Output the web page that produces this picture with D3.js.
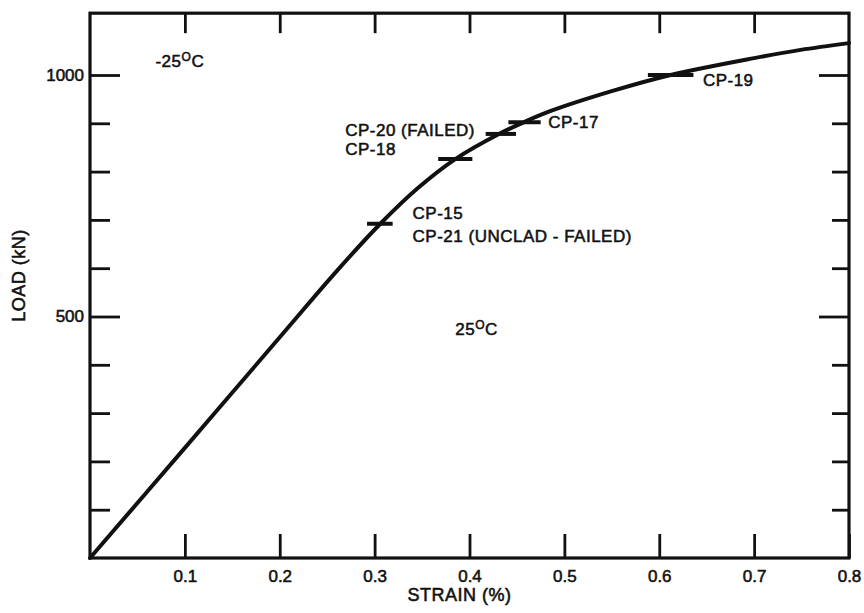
<!DOCTYPE html>
<html>
<head>
<meta charset="utf-8">
<script src="https://cdn.jsdelivr.net/npm/d3@7"></script>
<style>
  html, body { margin: 0; padding: 0; background: #fff; }
  svg { display: block; font-family: "Liberation Sans", Arial, Helvetica, sans-serif; }
  svg text { stroke: #111; stroke-width: 0.55px; }
</style>
</head>
<body>
<div id="app"></div>
<script>
// Load vs strain curve (strain in %, load in kN)
const curveStrain = [0, 0.1, 0.2, 0.26, 0.306, 0.345, 0.385, 0.431, 0.457, 0.485, 0.549, 0.612, 0.7, 0.749, 0.8];
const curveLoad   = [0, 228, 457, 594, 692, 765, 826, 878, 902, 925, 966, 1000, 1035, 1052, 1066];

// test specimen marks: strain spread (low/high) at a given load
const markNames      = ['CP-15', 'CP-18', 'CP-20', 'CP-17', 'CP-19'];
const markStrainLow  = [0.292, 0.367, 0.417, 0.441, 0.588];
const markStrainHigh = [0.319, 0.403, 0.449, 0.475, 0.636];
const markLoad       = [692, 826, 878, 902, 1000];

// annotations (text, strain, load of text baseline start)
const noteText   = ['-25|C', 'CP-19', 'CP-17', 'CP-20 (FAILED)', 'CP-18', 'CP-15', 'CP-21 (UNCLAD - FAILED)', '25|C'];
const noteStrain = [0.069, 0.646, 0.483, 0.269, 0.269, 0.340, 0.340, 0.385];
const noteLoad   = [1017, 977, 890, 874, 834, 702, 654, 462];

// ticks
const xTicks = [0.1, 0.2, 0.3, 0.4, 0.5, 0.6, 0.7, 0.8];
const xTopTicks = [0.1, 0.2, 0.3, 0.4, 0.5, 0.6, 0.7];
const yTicks = [100, 200, 300, 400, 500, 600, 700, 800, 900, 1000];
const yLabelled = [500, 1000];
const yTop = 1128;   // load at the top of the frame

const W = 864, H = 613;

const svg = d3.select('#app').append('svg')
  .attr('width', W).attr('height', H)
  .attr('viewBox', [0, 0, W, H]);

const x = d3.scaleLinear().domain([0, 0.8]).range([90, 849]);
const y = d3.scaleLinear().domain([0, 1000]).range([558, 75]);

const ink = '#111';

// frame
svg.append('rect')
  .attr('x', x(0)).attr('y', y(yTop))
  .attr('width', x(0.8) - x(0)).attr('height', y(0) - y(yTop))
  .attr('fill', 'none').attr('stroke', ink).attr('stroke-width', 3.2);

// axes, ticks pointing inward
function styleAxis(g) {
  g.select('.domain').remove();
  g.selectAll('.tick line').attr('stroke', ink).attr('stroke-width', 2.8);
  g.selectAll('.tick text').attr('fill', ink).attr('font-size', 17)
    .attr('font-family', '"Liberation Sans", Arial, sans-serif');
}

svg.append('g')
  .attr('transform', `translate(0,${y(0)})`)
  .call(d3.axisBottom(x).tickValues(xTicks).tickSize(-24).tickPadding(12).tickFormat(d3.format('.1f')))
  .call(styleAxis);

svg.append('g')
  .attr('transform', `translate(0,${y(yTop)})`)
  .call(d3.axisTop(x).tickValues(xTopTicks).tickSize(-20).tickFormat(''))
  .call(styleAxis);

const left = svg.append('g')
  .attr('transform', `translate(${x(0)},0)`)
  .call(d3.axisLeft(y).tickValues(yTicks).tickSize(-20).tickPadding(6)
    .tickFormat(d => yLabelled.includes(d) ? d : ''))
  .call(styleAxis);
left.selectAll('.tick line').filter(d => yLabelled.includes(d)).attr('x2', 30);

const right = svg.append('g')
  .attr('transform', `translate(${x(0.8)},0)`)
  .call(d3.axisRight(y).tickValues(yTicks).tickSize(-17).tickFormat(''))
  .call(styleAxis);
right.selectAll('.tick line').filter(d => yLabelled.includes(d)).attr('x2', -30);

// axis titles
svg.append('text')
  .attr('x', (x(0) + x(0.8)) / 2 - 10).attr('y', 601)
  .attr('text-anchor', 'middle')
  .attr('font-size', 18).attr('letter-spacing', 0.5).attr('fill', ink)
  .text('STRAIN (%)');

svg.append('text')
  .attr('transform', `translate(25,${y(585)}) rotate(-90)`)
  .attr('text-anchor', 'middle')
  .attr('font-size', 18).attr('letter-spacing', 0.5).attr('fill', ink)
  .text('LOAD (kN)');

// curve
const curve = curveStrain.map((s, i) => [s, curveLoad[i]]);
svg.append('path')
  .datum(curve)
  .attr('fill', 'none').attr('stroke', ink)
  .attr('stroke-width', 4).attr('stroke-linejoin', 'round').attr('stroke-linecap', 'round')
  .attr('d', d3.line().x(d => x(d[0])).y(d => y(d[1])).curve(d3.curveCatmullRom.alpha(0.5)));

// specimen marks
svg.append('g').selectAll('line')
  .data(markNames)
  .join('line')
  .attr('x1', (d, i) => x(markStrainLow[i]))
  .attr('x2', (d, i) => x(markStrainHigh[i]))
  .attr('y1', (d, i) => y(markLoad[i]))
  .attr('y2', (d, i) => y(markLoad[i]))
  .attr('stroke', ink).attr('stroke-width', 4);

// annotations; "|" marks the superscript degree "O"
const notes = svg.append('g').selectAll('text')
  .data(noteText)
  .join('text')
  .attr('x', (d, i) => x(noteStrain[i]))
  .attr('y', (d, i) => y(noteLoad[i]))
  .attr('font-size', 17).attr('letter-spacing', 0.5).attr('fill', ink);

notes.each(function (d) {
  const t = d3.select(this);
  const parts = d.split('|');
  if (parts.length === 1) { t.text(d); return; }
  t.append('tspan').text(parts[0]);
  t.append('tspan').attr('font-size', 12).attr('dy', -6).text('O');
  t.append('tspan').attr('dy', 6).text(parts[1]);
});
</script>
</body>
</html>
